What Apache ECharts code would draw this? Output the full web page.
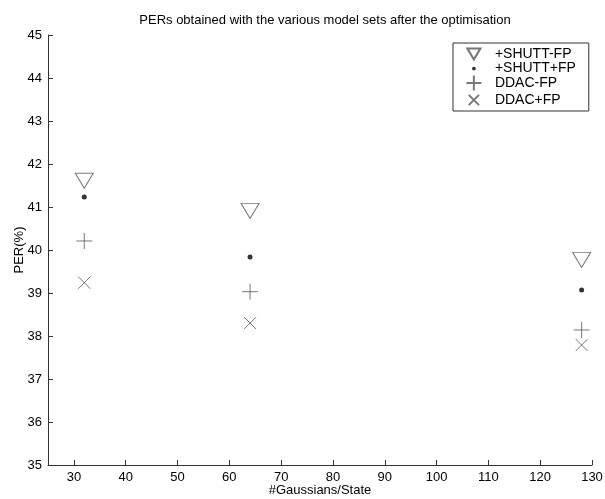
<!DOCTYPE html>
<html>
<head>
<meta charset="utf-8">
<script src="https://cdn.jsdelivr.net/npm/echarts@6/dist/echarts.min.js"></script>
<style>
  html, body { margin: 0; padding: 0; background: #fff; }
  #chart { width: 605px; height: 499px; }
</style>
</head>
<body>
<div id="chart"></div>
<script>
const gaussians = [32, 64, 128]
const shuttMinusFP = [41.61, 40.91, 39.77]
const shuttPlusFP = [41.23, 39.84, 39.07]
const ddacMinusFP = [40.21, 39.03, 38.14]
const ddacPlusFP = [39.24, 38.30, 37.79]
const xTicks = [30, 40, 50, 60, 70, 80, 90, 100, 110, 120, 130]

const FONT = '"Liberation Sans", Arial, sans-serif'
const AXIS = '#333'
const MARK = '#555'

const triDown = 'path://M0,0 L20,0 L10,17 Z'
const plus = 'path://M0,8 L16,8 M8,0 L8,16'
const cross = 'path://M0,0 L12,12 M0,12 L12,0'

// legend icons padded with moveTo points so they keep the small MATLAB look
const legTri = 'path://M0,0 M3,2 L17,2 L10,14 Z M20,16'
const legDot = 'path://M0,0 M10,8 m-2,0 a2,2 0 1,0 4,0 a2,2 0 1,0 -4,0 M20,16'
const legPlus = 'path://M0,0 M2,8 L18,8 M10,0 L10,16 M20,16'
const legCross = 'path://M0,0 M4.5,2.5 L15.5,13.5 M4.5,13.5 L15.5,2.5 M20,16'

const pts = (ys) => gaussians.map((x, i) => [x, ys[i]])

const hollow = (name, data, symbol, size) => ({
  name,
  type: 'scatter',
  data: pts(data),
  symbol,
  symbolSize: size,
  itemStyle: { color: 'none', borderColor: MARK, borderWidth: 1 },
  emphasis: { disabled: true }
})

const chart = echarts.init(document.getElementById('chart'))

const option = {
  animation: false,
  backgroundColor: '#fff',
  textStyle: { fontFamily: FONT },
  title: {
    text: 'PERs obtained with the various model sets after the optimisation',
    left: 320,
    textAlign: 'center',
    top: 9,
    textStyle: { fontSize: 13, fontWeight: 'normal', color: '#000', fontFamily: FONT }
  },
  legend: {
    orient: 'vertical',
    left: 453,
    top: 43,
    padding: [1, 13, 1, 9],
    borderColor: AXIS,
    borderWidth: 1,
    itemGap: -3,
    itemWidth: 20,
    itemHeight: 15,
    textStyle: { fontSize: 14, color: '#000', fontFamily: FONT, padding: [0, 0, 0, 6] },
    data: [
      { name: '+SHUTT-FP', icon: legTri },
      { name: '+SHUTT+FP', icon: legDot, itemStyle: { color: '#000', borderWidth: 0 } },
      { name: 'DDAC-FP', icon: legPlus },
      { name: 'DDAC+FP', icon: legCross }
    ]
  },
  grid: { left: 48, right: 13, top: 35, bottom: 34, outerBoundsMode: 'none' },
  xAxis: {
    type: 'value',
    min: 25,
    max: 130,
    name: '#Gaussians/State',
    nameLocation: 'middle',
    nameGap: 19,
    nameMoveOverlap: false,
    nameTextStyle: { fontSize: 13, color: '#000', fontFamily: FONT, verticalAlign: 'top' },
    axisLine: { lineStyle: { color: AXIS } },
    axisTick: { inside: true, length: 5, customValues: xTicks, lineStyle: { color: AXIS } },
    axisLabel: { customValues: xTicks, fontSize: 13, color: '#000', margin: 6, fontFamily: FONT },
    splitLine: { show: false }
  },
  yAxis: {
    type: 'value',
    min: 35,
    max: 45,
    interval: 1,
    name: 'PER(%)',
    nameLocation: 'middle',
    nameGap: 22,
    nameMoveOverlap: false,
    nameTextStyle: { fontSize: 13, color: '#000', fontFamily: FONT },
    axisLine: { show: true, lineStyle: { color: AXIS } },
    axisTick: { show: true, inside: true, length: 5, lineStyle: { color: AXIS } },
    axisLabel: { fontSize: 13, color: '#000', margin: 6, fontFamily: FONT },
    splitLine: { show: false }
  },
  series: [
    hollow('+SHUTT-FP', shuttMinusFP, triDown, [18, 15]),
    {
      name: '+SHUTT+FP',
      type: 'scatter',
      data: pts(shuttPlusFP),
      symbol: 'circle',
      symbolSize: 5,
      itemStyle: { color: '#000' },
      emphasis: { disabled: true }
    },
    hollow('DDAC-FP', ddacMinusFP, plus, 16),
    hollow('DDAC+FP', ddacPlusFP, cross, 12)
  ]
}

chart.setOption(option)
</script>
</body>
</html>
